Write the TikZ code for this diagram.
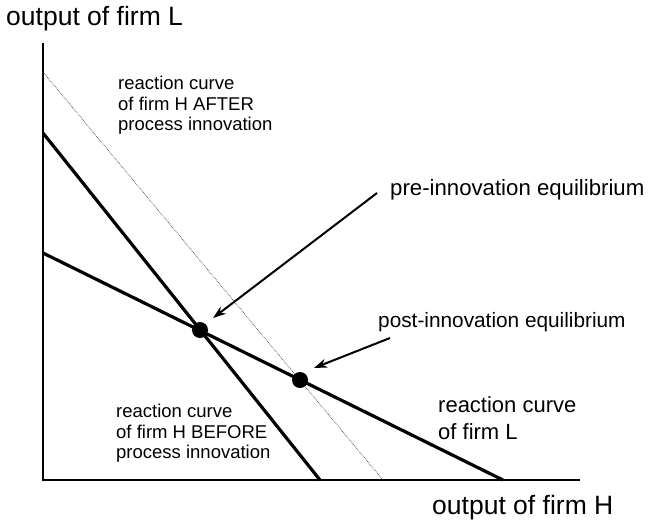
\documentclass[tikz,border=0pt]{standalone}
\usepackage{fontspec}
\setmainfont{Liberation Sans}
\usetikzlibrary{arrows.meta}
\begin{document}
\begin{tikzpicture}[x=1pt,y=-1pt,
  axis/.style={line width=1.6pt},
  curve/.style={line width=3.2pt},
  shifted/.style={line width=0.7pt, densely dotted, black!75},
  eqdot/.style={circle, fill=black, inner sep=0pt, minimum size=16pt},
  pointer/.style={line width=2pt, -{Stealth[length=13pt,width=9pt]}},
  biglabel/.style={font=\fontsize{26.5}{30}\selectfont, inner sep=0pt, anchor=west},
  midlabel/.style={font=\fontsize{21}{25}\selectfont, inner sep=0pt, anchor=west},
  smalllabel/.style={font=\fontsize{18.5}{20.5}\selectfont, inner sep=0pt, align=left, anchor=north west}
]
\useasboundingbox (0,0) rectangle (648,525);

% axes
\coordinate (top) at (43,43);
\coordinate (origin) at (43,480);
\coordinate (right) at (580,480);
\draw[axis] (top) -- (origin) -- (right);

% reaction curves
\coordinate (hb1) at (43,133);  \coordinate (hb2) at (320,480);
\coordinate (l1)  at (43,253);  \coordinate (l2)  at (503,480);
\coordinate (ha1) at (43,72);   \coordinate (ha2) at (383,480);
\draw[shifted] (ha1) -- (ha2);
\draw[curve] (hb1) -- (hb2);
\draw[curve] (l1) -- (l2);

% equilibria
\node[eqdot] (pre) at (200,330) {};
\node[eqdot] (post) at (300,380) {};

% axis labels
\node[biglabel] (ylab) at (6,19) {output of firm L};
\node[biglabel] (xlab) at (432,508) {output of firm H};

% curve labels
\node[smalllabel] (after) at (118,76) {reaction curve\\of firm H AFTER\\process innovation};
\node[smalllabel] (before) at (116,404) {reaction curve\\of firm H BEFORE\\process innovation};
\node[midlabel, align=left, anchor=north west, font=\fontsize{22}{27.5}\selectfont] (lcurve) at (438,396) {reaction curve\\of firm L};

% equilibrium labels and pointers
\node[midlabel, font=\fontsize{22.2}{26}\selectfont] (prelab) at (390,190) {pre-innovation equilibrium};
\node[midlabel, font=\fontsize{20.8}{24}\selectfont] (postlab) at (378,322) {post-innovation equilibrium};
\coordinate (prestart) at (377,193);
\coordinate (preend) at (213,318);
\coordinate (poststart) at (390,338);
\coordinate (postend) at (314,368);
\draw[pointer] (prestart) -- (preend);
\draw[pointer] (poststart) -- (postend);
\end{tikzpicture}
\end{document}
